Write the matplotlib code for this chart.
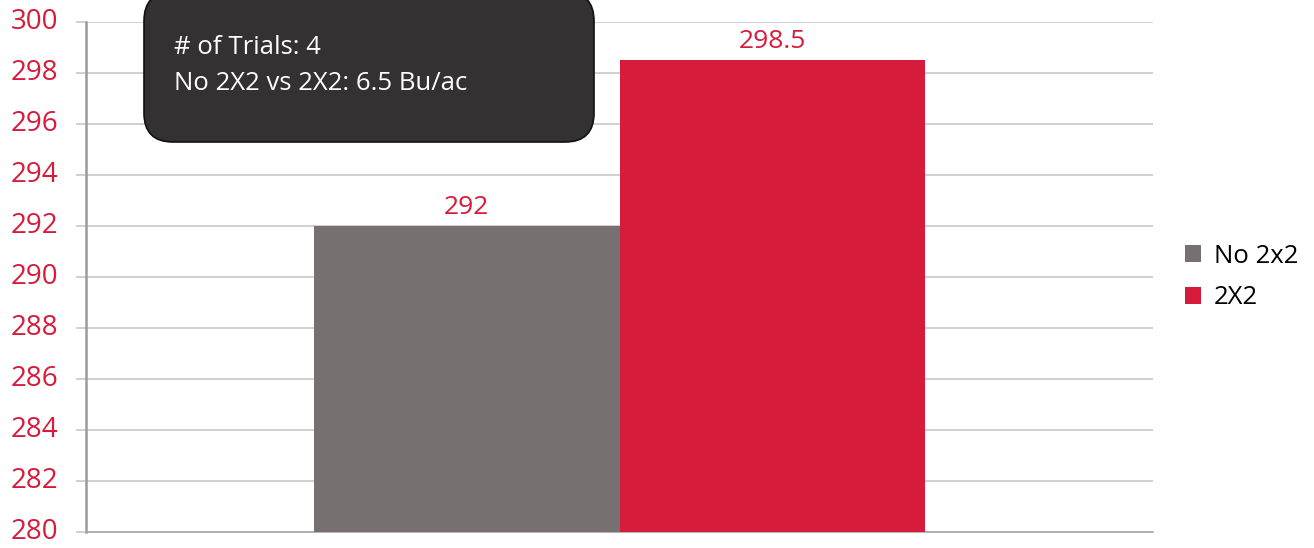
import matplotlib.pyplot as plt
from matplotlib.patches import FancyBboxPatch, Patch

categories = ["No 2x2", "2X2"]
yields = [292, 298.5]
value_labels = ["292", "298.5"]
colors = ["#767170", "#D71B3B"]
yticks = list(range(280, 301, 2))
note_lines = ["# of Trials: 4", "No 2X2 vs 2X2: 6.5 Bu/ac"]

plt.rcParams['font.family'] = ['Open Sans', 'DejaVu Sans']

fig = plt.figure(figsize=(13.14, 5.48), dpi=100)
ax = fig.add_axes([86/1314, 16/548, (1153-86)/1314, (532-22)/548])

width = 0.286
offsets = [-width/2, width/2]
for off, val, lab, col, name in zip(offsets, yields, value_labels, colors, categories):
    ax.bar(off, val - 280, width, bottom=280, color=col, zorder=3, label=name)
    ax.text(off, val + 0.25, lab, ha='center', va='bottom', fontsize=19, color="#D71B3B")

ax.set_xlim(-0.5, 0.5)
ax.set_ylim(280, 300)
ax.set_yticks(yticks)
ax.set_xticks([])
ax.yaxis.grid(True, color="#c8c8c8", linewidth=1.2, zorder=0)
ax.tick_params(axis='y', length=7, width=1.2, color="#c8c8c8", pad=13,
               labelsize=20, labelcolor="#D71B3B")
for s in ['top', 'right']:
    ax.spines[s].set_visible(False)
ax.spines['left'].set_color("#9a9a9a")
ax.spines['left'].set_linewidth(1.8)
ax.spines['left'].set_bounds(280, 300)
ax.spines['bottom'].set_color("#a6a6a6")
ax.spines['bottom'].set_linewidth(1.2)
for lbl in ax.get_yticklabels():
    lbl.set_verticalalignment('center')

# note box
box = FancyBboxPatch((144/1314, 1 - 142/548), (594-144)/1314, 150/548,
                     boxstyle="round,pad=0,rounding_size=0.022",
                     transform=fig.transFigure, facecolor="#333132",
                     edgecolor="#111111", linewidth=1.2, zorder=5,
                     mutation_aspect=1314/548)
fig.patches.append(box)
fig.text(174/1314, 1 - 48/548, note_lines[0], color="white", fontsize=18.5,
         va='center', ha='left', zorder=6)
fig.text(174/1314, 1 - 84/548, note_lines[1], color="white", fontsize=18.5,
         va='center', ha='left', zorder=6)

handles = [Patch(facecolor=c, label=n) for c, n in zip(colors, categories)]
fig.legend(handles=handles, loc='center left', bbox_to_anchor=(1162/1314, 1 - 277/548),
           frameon=False, fontsize=18.5, handlelength=0.62, handleheight=0.62,
           handletextpad=0.5, labelspacing=0.65)

fig.savefig("out.png", dpi=100)
